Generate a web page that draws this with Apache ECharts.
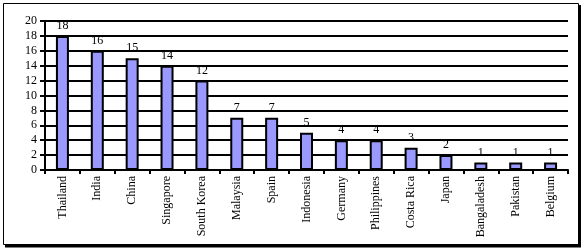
<!DOCTYPE html>
<html>
<head>
<meta charset="utf-8">
<script src="https://cdn.jsdelivr.net/npm/echarts@6/dist/echarts.min.js"></script>
<style>html,body{margin:0;padding:0;background:#fff;}#c{width:585px;height:251px;}</style>
</head>
<body>
<div id="c"></div>
<script>
var categories = ['Thailand','India','China','Singapore','South Korea','Malaysia','Spain','Indonesia','Germany','Philippines','Costa Rica','Japan','Bangaladesh','Pakistan','Belgium'];
var values = [18,16,15,14,12,7,7,5,4,4,3,2,1,1,1];
var yTicks = [0,2,4,6,8,10,12,14,16,18,20];

var chart = echarts.init(document.getElementById('c'), null, {renderer:'canvas'});
var font = "'Liberation Serif','Times New Roman',serif";
chart.setOption({
  animation:false,
  backgroundColor:'#fff',
  grid:{left:45, right:17, top:21, bottom:81, containLabel:false},
  xAxis:{
    type:'category',
    data:categories,
    boundaryGap:true,
    axisLine:{lineStyle:{color:'#000', width:2}},
    axisTick:{show:true, alignWithLabel:false, length:4, lineStyle:{color:'#000', width:2}},
    axisLabel:{rotate:90, interval:0, color:'#000', fontFamily:font, fontSize:12, margin:6}
  },
  yAxis:{
    type:'value',
    min:yTicks[0], max:yTicks[yTicks.length-1], interval:2,
    axisLine:{show:true, lineStyle:{color:'#000', width:2}},
    axisTick:{show:true, length:5, lineStyle:{color:'#000', width:2}},
    splitLine:{show:true, lineStyle:{color:'#000', width:2}},
    axisLabel:{color:'#000', fontFamily:font, fontSize:12, margin:8}
  },
  series:[{
    type:'bar',
    data:values,
    barWidth:13,
    itemStyle:{color:'#9999FF', borderColor:'#000', borderWidth:2},
    label:{show:true, position:'top', distance:4, color:'#000', fontFamily:font, fontSize:12}
  }],
  graphic:[
    {type:'rect', shape:{x:3.5, y:3.5, width:575, height:241}, style:{fill:null, stroke:'#000', lineWidth:1}, silent:true},
    {type:'line', shape:{x1:579.5, y1:5, x2:579.5, y2:247}, style:{stroke:'#000', lineWidth:3}, silent:true},
    {type:'line', shape:{x1:5, y1:246, x2:581, y2:246}, style:{stroke:'#000', lineWidth:3}, silent:true}
  ]
});
</script>
</body>
</html>
